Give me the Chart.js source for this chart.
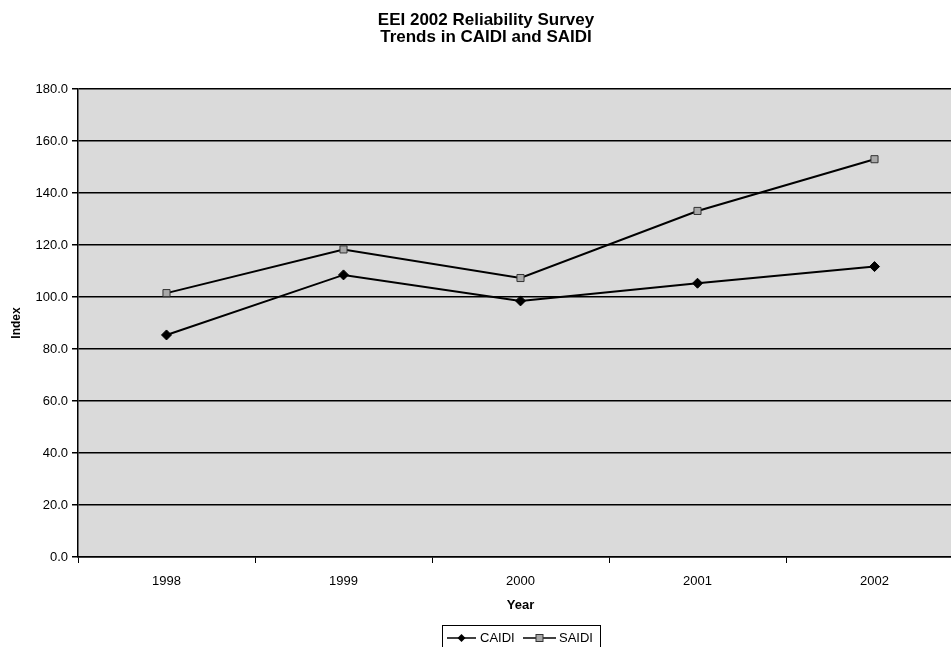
<!DOCTYPE html>
<html>
<head>
<meta charset="utf-8">
<script src="https://cdn.jsdelivr.net/npm/chart.js@4/dist/chart.umd.min.js"></script>
<style>
  html, body { margin: 0; padding: 0; background: #fff; overflow: hidden; }
  #wrap { width: 970px; height: 647px; }
</style>
</head>
<body>
<div id="wrap"><canvas id="c" width="970" height="647"></canvas></div>
<script>
// Survey years and index values
const years = ['1998', '1999', '2000', '2001', '2002'];
const caidi = [85.4, 108.5, 98.5, 105.3, 111.7];
const saidi = [101.5, 118.3, 107.3, 133.1, 153.0];
const yTicks = [0, 20, 40, 60, 80, 100, 120, 140, 160, 180];
const titleLines = ['EEI 2002 Reliability Survey', 'Trends in CAIDI and SAIDI'];

const FONT = '"Liberation Sans", Arial, sans-serif';

// Stippled grey fill behind the plot area
const plotBackground = {
  id: 'plotBackground',
  beforeDraw(chart) {
    const { ctx, chartArea: a } = chart;
    ctx.save();
    ctx.fillStyle = '#dadada';
    ctx.fillRect(a.left, a.top, a.right - a.left, a.bottom - a.top);
    ctx.restore();
  }
};

// Two-line heading and the boxed legend with line-through-marker samples
const decorations = {
  id: 'decorations',
  afterDraw(chart) {
    const { ctx } = chart;
    ctx.save();
    ctx.fillStyle = '#000';
    ctx.font = 'bold 17px ' + FONT;
    ctx.textAlign = 'center';
    ctx.textBaseline = 'middle';
    ctx.fillText(titleLines[0], 486, 20);
    ctx.fillText(titleLines[1], 486, 37);

    // legend box
    const bx = 442, by = 625, bw = 158, bh = 30;
    ctx.strokeStyle = '#000';
    ctx.lineWidth = 1;
    ctx.strokeRect(bx + 0.5, by + 0.5, bw, bh);

    const cy = 638;
    const items = [
      { x0: 447, x1: 476, label: 'CAIDI', tx: 480, ds: 0 },
      { x0: 523, x1: 556, label: 'SAIDI', tx: 559, ds: 1 }
    ];
    ctx.font = '13px ' + FONT;
    ctx.textAlign = 'left';
    items.forEach(it => {
      ctx.beginPath();
      ctx.moveTo(it.x0, cy);
      ctx.lineTo(it.x1, cy);
      ctx.lineWidth = 1.5;
      ctx.strokeStyle = '#000';
      ctx.stroke();
      const mx = (it.x0 + it.x1) / 2;
      const d = chart.data.datasets[it.ds];
      if (d.pointStyle === 'rectRot') {
        ctx.beginPath();
        ctx.moveTo(mx, cy - 4);
        ctx.lineTo(mx + 4, cy);
        ctx.lineTo(mx, cy + 4);
        ctx.lineTo(mx - 4, cy);
        ctx.closePath();
        ctx.fillStyle = '#000';
        ctx.fill();
      } else {
        ctx.fillStyle = d.pointBackgroundColor;
        ctx.fillRect(mx - 3.5, cy - 3.5, 7, 7);
        ctx.lineWidth = 1;
        ctx.strokeStyle = d.pointBorderColor;
        ctx.strokeRect(mx - 3.5, cy - 3.5, 7, 7);
      }
      ctx.fillStyle = '#000';
      ctx.fillText(it.label, it.tx, cy);
    });
    ctx.restore();
  }
};

new Chart(document.getElementById('c'), {
  type: 'line',
  data: {
    labels: years,
    datasets: [
      {
        label: 'CAIDI',
        data: caidi,
        borderColor: '#000',
        borderWidth: 2,
        pointStyle: 'rectRot',
        pointRadius: 5,
        pointBackgroundColor: '#000',
        pointBorderColor: '#000',
        pointBorderWidth: 1,
        tension: 0,
        fill: false
      },
      {
        label: 'SAIDI',
        data: saidi,
        borderColor: '#000',
        borderWidth: 2,
        pointStyle: 'rect',
        pointRadius: 5,
        pointBackgroundColor: '#a8a8a8',
        pointBorderColor: '#333',
        pointBorderWidth: 1,
        tension: 0,
        fill: false
      }
    ]
  },
  options: {
    responsive: false,
    animation: false,
    layout: { padding: { left: 0, right: 7, top: 89, bottom: 0 } },
    plugins: {
      legend: { display: false },
      title: { display: false },
      tooltip: { enabled: false }
    },
    scales: {
      x: {
        type: 'category',
        offset: true,
        afterFit(scale) { scale.height = 90; },
        grid: {
          offset: true,
          drawOnChartArea: false,
          drawTicks: true,
          tickLength: 6,
          color: '#000',
          lineWidth: 1
        },
        border: { color: '#000', width: 1.5 },
        ticks: {
          color: '#000',
          font: { family: FONT, size: 13 },
          padding: 11,
          maxRotation: 0
        },
        title: {
          display: true,
          text: 'Year',
          color: '#000',
          font: { family: FONT, size: 13, weight: 'bold' },
          padding: { top: 0, bottom: 34 }
        }
      },
      y: {
        min: 0,
        max: 180,
        afterFit(scale) { scale.width = 78; },
        afterBuildTicks(scale) { scale.ticks = yTicks.map(v => ({ value: v })); },
        grid: {
          color: '#000',
          lineWidth: 1.5,
          drawTicks: true,
          tickLength: 6
        },
        border: { color: '#000', width: 1.5 },
        ticks: {
          color: '#000',
          font: { family: FONT, size: 13 },
          padding: 4,
          callback: v => Number(v).toFixed(1)
        },
        title: {
          display: true,
          text: 'Index',
          color: '#000',
          font: { family: FONT, size: 12, weight: 'bold' },
          padding: { top: 9, bottom: 0 }
        }
      }
    }
  },
  plugins: [plotBackground, decorations]
});
</script>
</body>
</html>
